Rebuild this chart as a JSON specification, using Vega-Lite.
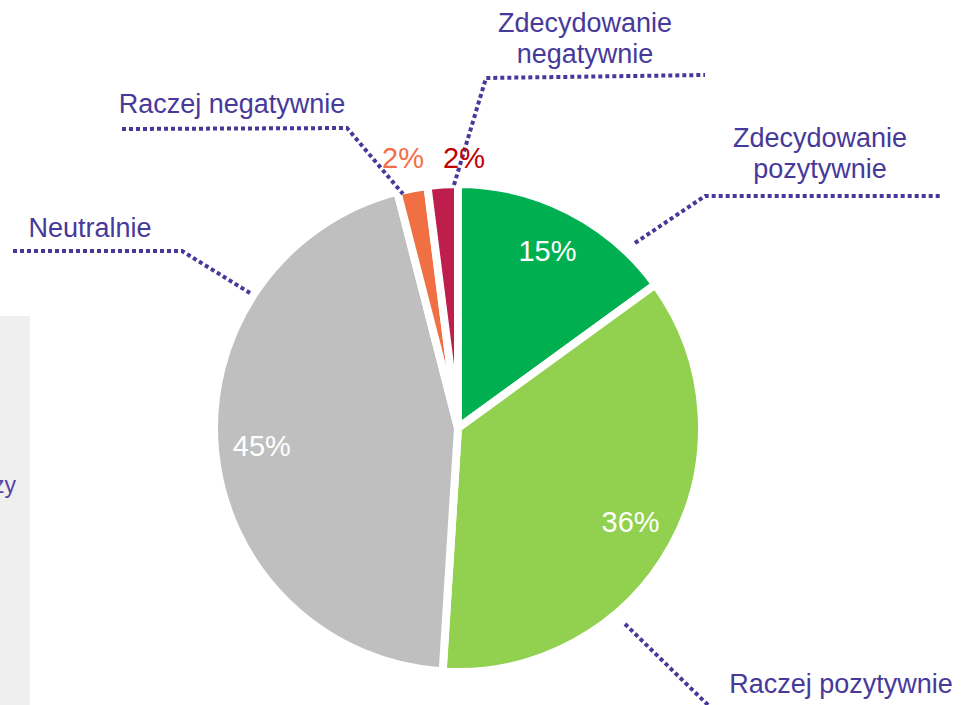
{
  "$schema": "https://vega.github.io/schema/vega-lite/v6.json",
  "width": 963,
  "height": 705,
  "padding": 0,
  "autosize": {"type": "none"},
  "background": "white",
  "config": {"view": {"stroke": null}, "font": "Liberation Sans"},
  "datasets": {
    "slices": [
      {"cat": "Zdecydowanie pozytywnie", "value": 15, "label": "15%", "ord": 1},
      {"cat": "Raczej pozytywnie", "value": 36, "label": "36%", "ord": 2},
      {"cat": "Neutralnie", "value": 45, "label": "45%", "ord": 3},
      {"cat": "Raczej negatywnie", "value": 2, "label": "2%", "ord": 4},
      {"cat": "Zdecydowanie negatywnie", "value": 2, "label": "2%", "ord": 5}
    ],
    "leaders": [
      {"id": "zn", "seq": 1, "px": 454, "py": 185},
      {"id": "zn", "seq": 2, "px": 486, "py": 78},
      {"id": "zn", "seq": 3, "px": 705, "py": 75},
      {"id": "rn", "seq": 1, "px": 122, "py": 129},
      {"id": "rn", "seq": 2, "px": 347, "py": 128},
      {"id": "rn", "seq": 3, "px": 403, "py": 194},
      {"id": "ne", "seq": 1, "px": 13, "py": 251},
      {"id": "ne", "seq": 2, "px": 182, "py": 251},
      {"id": "ne", "seq": 3, "px": 250, "py": 293},
      {"id": "zp", "seq": 1, "px": 635, "py": 243},
      {"id": "zp", "seq": 2, "px": 705, "py": 196},
      {"id": "zp", "seq": 3, "px": 940, "py": 196},
      {"id": "rp", "seq": 1, "px": 625, "py": 624},
      {"id": "rp", "seq": 2, "px": 710, "py": 707}
    ],
    "catlabels": [
      {"text": "Zdecydowanie\nnegatywnie", "px": 585, "py": 32},
      {"text": "Zdecydowanie\npozytywnie", "px": 820, "py": 147},
      {"text": "Raczej negatywnie", "px": 232, "py": 113},
      {"text": "Neutralnie", "px": 90, "py": 237},
      {"text": "Raczej pozytywnie", "px": 841, "py": 693}
    ],
    "small": [
      {"cat": "Raczej negatywnie", "text": "2%", "px": 403, "py": 168},
      {"cat": "Zdecydowanie negatywnie", "text": "2%", "px": 464, "py": 168}
    ],
    "panel": [
      {"x1": 0, "x2": 30, "y1": 316, "y2": 705}
    ],
    "cut": [
      {"text": "zy", "px": 16, "py": 493}
    ]
  },
  "layer": [
    {
      "data": {"name": "panel"},
      "mark": {"type": "rect", "color": "#efefef"},
      "encoding": {
        "x": {"field": "x1", "type": "quantitative", "scale": {"domain": [0, 963], "nice": false, "zero": false}, "axis": null},
        "x2": {"field": "x2"},
        "y": {"field": "y1", "type": "quantitative", "scale": {"domain": [0, 705], "nice": false, "zero": false, "reverse": true}, "axis": null},
        "y2": {"field": "y2"}
      }
    },
    {
      "data": {"name": "cut"},
      "mark": {"type": "text", "align": "right", "baseline": "alphabetic", "fontSize": 23, "color": "#5446a3"},
      "encoding": {
        "x": {"field": "px", "type": "quantitative"},
        "y": {"field": "py", "type": "quantitative"},
        "text": {"field": "text"}
      }
    },
    {
      "data": {"name": "slices"},
      "encoding": {
        "theta": {"field": "value", "type": "quantitative", "stack": true},
        "order": {"field": "ord", "type": "quantitative"},
        "x": {"datum": 458, "type": "quantitative"},
        "y": {"datum": 428, "type": "quantitative"}
      },
      "layer": [
        {
          "mark": {"type": "arc", "outerRadius": 244, "stroke": "white", "strokeWidth": 8},
          "encoding": {
            "color": {
              "field": "cat",
              "type": "nominal",
              "legend": null,
              "scale": {
                "domain": ["Zdecydowanie pozytywnie", "Raczej pozytywnie", "Neutralnie", "Raczej negatywnie", "Zdecydowanie negatywnie"],
                "range": ["#00b050", "#92d050", "#bfbfbf", "#f07044", "#be1e4b"]
              }
            }
          }
        },
        {
          "mark": {"type": "text", "radius": 197, "fontSize": 29, "color": "white", "baseline": "middle", "align": "center"},
          "encoding": {
            "text": {"field": "label"},
            "opacity": {"condition": {"test": "datum.value > 5", "value": 1}, "value": 0}
          }
        }
      ]
    },
    {
      "data": {"name": "leaders"},
      "mark": {"type": "line", "color": "#47399a", "strokeWidth": 4, "strokeDash": [4, 3]},
      "encoding": {
        "x": {"field": "px", "type": "quantitative"},
        "y": {"field": "py", "type": "quantitative"},
        "detail": {"field": "id"},
        "order": {"field": "seq"}
      }
    },
    {
      "data": {"name": "catlabels"},
      "mark": {"type": "text", "align": "center", "baseline": "alphabetic", "fontSize": 27, "lineBreak": "\n", "lineHeight": 31, "color": "#47399a"},
      "encoding": {
        "x": {"field": "px", "type": "quantitative"},
        "y": {"field": "py", "type": "quantitative"},
        "text": {"field": "text"}
      }
    },
    {
      "data": {"name": "small"},
      "transform": [{"filter": "datum.cat == 'Raczej negatywnie'"}],
      "mark": {"type": "text", "align": "center", "baseline": "alphabetic", "fontSize": 29, "color": "#f36f47"},
      "encoding": {
        "x": {"field": "px", "type": "quantitative"},
        "y": {"field": "py", "type": "quantitative"},
        "text": {"field": "text"}
      }
    },
    {
      "data": {"name": "small"},
      "transform": [{"filter": "datum.cat == 'Zdecydowanie negatywnie'"}],
      "mark": {"type": "text", "align": "center", "baseline": "alphabetic", "fontSize": 29, "color": "#c00000"},
      "encoding": {
        "x": {"field": "px", "type": "quantitative"},
        "y": {"field": "py", "type": "quantitative"},
        "text": {"field": "text"}
      }
    }
  ]
}
